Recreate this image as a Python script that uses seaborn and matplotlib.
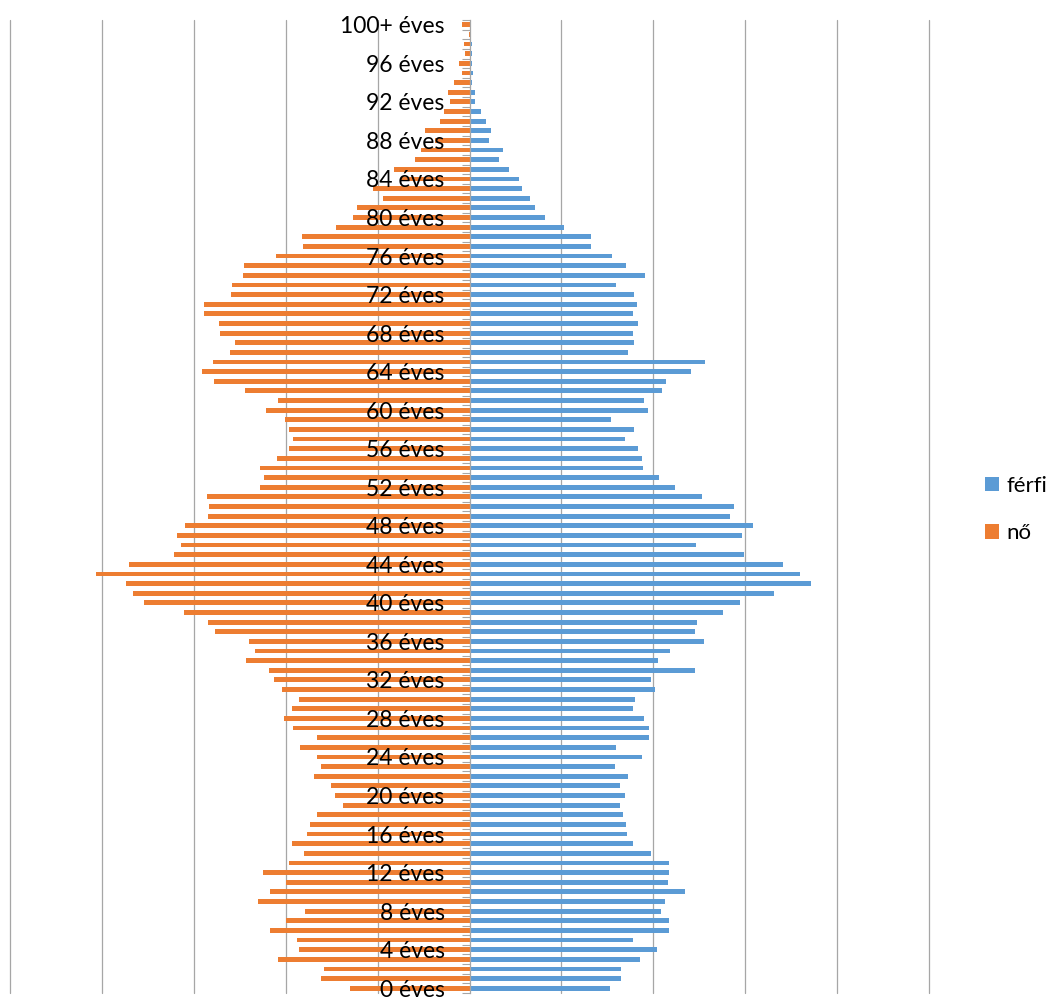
import numpy as np
import pandas as pd
import matplotlib
matplotlib.use("Agg")
import matplotlib.pyplot as plt
import seaborn as sns
from matplotlib.ticker import FixedLocator

# korfa: korosztalyonkent ezer fo (becsult ertekek a kepbol)
AGES = list(range(0, 101))
AGE_LABELS = [f"{a} éves" for a in AGES[:-1]] + ["100+ éves"]

FERFI = [
    30.5, 32.9, 33.0, 37.2, 40.8, 35.5, 43.4, 43.4, 41.7, 42.6,
    46.8, 43.2, 43.5, 43.4, 39.4, 35.6, 34.2, 34.0, 33.4, 32.7,
    33.9, 32.7, 34.5, 31.6, 37.5, 31.8, 39.1, 39.1, 38.0, 35.6,
    36.0, 40.4, 39.4, 49.1, 41.1, 43.6, 51.0, 49.1, 49.6, 55.2,
    58.8, 66.2, 74.4, 71.9, 68.3, 59.8, 49.3, 59.4, 61.6, 56.6,
    57.6, 50.6, 44.8, 41.3, 37.8, 37.6, 36.7, 33.9, 35.7, 30.9,
    38.9, 38.0, 41.8, 42.7, 48.2, 51.2, 34.6, 35.7, 35.6, 36.7,
    35.6, 36.4, 35.7, 31.8, 38.1, 34.1, 31.1, 26.5, 26.5, 20.5,
    16.4, 14.3, 13.2, 11.4, 10.7, 8.5, 6.4, 7.2, 4.2, 4.7,
    3.6, 2.5, 1.3, 1.2, 0.6, 0.7, 0.6, 0.6, 0.5, 0.2,
    0.1,
]

NO = [
    25.9, 32.3, 31.7, 41.6, 37.1, 37.6, 43.4, 39.9, 35.7, 46.0,
    43.4, 39.9, 45.0, 39.2, 36.1, 38.6, 35.3, 34.7, 33.1, 27.6,
    29.3, 30.2, 33.8, 32.4, 33.1, 36.9, 33.1, 38.5, 40.3, 38.6,
    37.0, 40.8, 42.6, 43.6, 48.7, 46.6, 48.0, 55.4, 57.0, 62.2,
    70.8, 73.2, 74.8, 81.3, 74.2, 64.3, 62.7, 63.7, 61.9, 56.9,
    56.7, 57.1, 45.7, 44.8, 45.5, 42.0, 39.2, 38.4, 39.2, 40.1,
    44.3, 41.6, 48.8, 55.7, 58.3, 55.9, 52.2, 51.1, 54.4, 54.5,
    57.7, 57.8, 51.9, 51.6, 49.2, 49.0, 42.2, 36.3, 36.5, 29.1,
    25.3, 24.4, 18.8, 21.0, 15.0, 16.5, 11.9, 10.5, 7.6, 9.6,
    6.5, 5.6, 4.2, 4.6, 3.3, 1.7, 2.3, 0.9, 1.3, 0.2,
    1.6,
]

SEXES = ["férfi", "nő"]
COLORS = {"férfi": "#5B9BD5", "nő": "#ED7D31"}
GRID_STEP = 20
GRID_COLOR = "#A6A6A6"

sns.set_style("white")
plt.rcParams['font.family'] = ['Lato', 'DejaVu Sans']

df = pd.DataFrame({
    "kor": AGE_LABELS * 2,
    "nem": ["férfi"] * len(AGES) + ["nő"] * len(AGES),
    "fo": FERFI + [-v for v in NO],
})

fig = plt.figure(figsize=(10.5, 9.99), dpi=100)
ax = fig.add_axes([10 / 1050, 6 / 999, 919 / 1050, 973 / 999])

sns.barplot(data=df, x="fo", y="kor", hue="nem", hue_order=SEXES,
            order=AGE_LABELS, palette=COLORS, orient="h", dodge=False,
            width=0.5, saturation=1, linewidth=0, zorder=2, ax=ax)

ax.set_xlim(-5 * GRID_STEP, 5 * GRID_STEP)
ax.set_ylim(-0.5, len(AGES) - 0.5)

# fuggoleges racsvonalak az oszlopok alatt, a feliratok az oszlopok folott
for gx in np.arange(-5, 6) * GRID_STEP:
    if gx != 0:
        ax.axvline(gx, color=GRID_COLOR, linewidth=0.9, zorder=0, clip_on=False)
ax.set_axisbelow(False)
ax.tick_params(axis="x", length=0, labelbottom=False)

# kategoriatengely a nullanal
for s in ["top", "right", "bottom"]:
    ax.spines[s].set_visible(False)
ax.spines["left"].set_position(("data", 0))
ax.spines["left"].set_color(GRID_COLOR)
ax.spines["left"].set_linewidth(0.9)

ax.set_yticks(AGES[::4])
ax.set_yticklabels(AGE_LABELS[::4])
ax.yaxis.set_minor_locator(FixedLocator(np.arange(-0.5, len(AGES), 1)))
ax.tick_params(axis="y", which="major", length=0, pad=18, labelsize=16.5,
               labelcolor="black")
ax.tick_params(axis="y", which="minor", length=5.5, width=0.8,
               color=GRID_COLOR, direction="out", left=True)
ax.set_xlabel("")
ax.set_ylabel("")

handles, labels = ax.get_legend_handles_labels()
leg = ax.legend(handles, labels, loc="center left", bbox_to_anchor=(985 / 1050, 0.49),
                bbox_transform=fig.transFigure, frameon=False, fontsize=16,
                handlelength=0.62, handleheight=0.62, handletextpad=0.35,
                labelspacing=1.25, borderpad=0, borderaxespad=0)
for t in leg.get_texts():
    t.set_color("black")

fig.savefig("out.png", dpi=100)
plt.close(fig)
